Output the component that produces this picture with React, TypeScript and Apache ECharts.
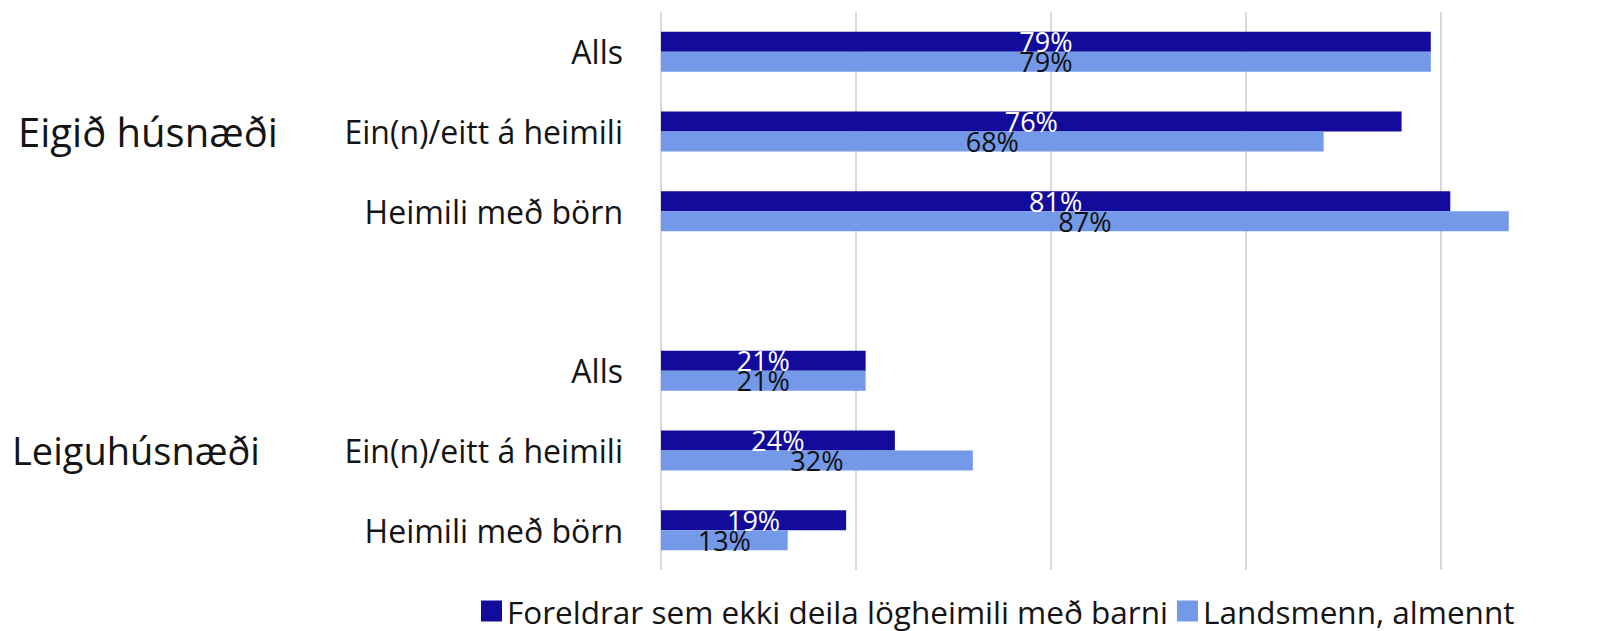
import React, { useEffect, useRef } from "react";
import * as echarts from "echarts";

const categories = [
  "Alls",
  "Ein(n)/eitt á heimili",
  "Heimili með börn",
  "",
  "Alls",
  "Ein(n)/eitt á heimili",
  "Heimili með börn",
];
const seriesNames = ["Foreldrar sem ekki deila lögheimili með barni", "Landsmenn, almennt"];
const parentsValues: (number | string)[] = [79, 76, 81, "-", 21, 24, 19];
const generalValues: (number | string)[] = [79, 68, 87, "-", 21, 32, 13];
const groupLabels = ["Eigið húsnæði", "Leiguhúsnæði"];

const FONT = "Open Sans";
const DARK = "#130B9B";
const LIGHT = "#7499E8";
const INK = "#141414";

export default function App() {
  const ref = useRef<HTMLDivElement>(null);
  useEffect(() => {
    if (!ref.current) return;
    const chart = echarts.init(ref.current, undefined, { renderer: "svg" });
    chart.setOption({
      animation: false,
      textStyle: { fontFamily: FONT },
      grid: { left: 661, right: 76, top: 12, bottom: 61, containLabel: false },
      xAxis: {
        type: "value",
        min: 0,
        max: 90,
        interval: 20,
        axisLabel: { show: false },
        axisLine: { show: false },
        axisTick: { show: false },
        splitLine: { show: true, showMaxLine: false, lineStyle: { color: "#d9d9d9", width: 2 } },
      },
      yAxis: {
        type: "category",
        inverse: true,
        data: categories,
        axisLine: { show: false },
        axisTick: { show: false },
        axisLabel: { fontSize: 32, color: INK, margin: 38, fontFamily: FONT },
      },
      legend: {
        left: 476,
        top: 590,
        itemWidth: 21,
        itemHeight: 21,
        itemGap: 9,
        icon: "rect",
        textStyle: { fontSize: 31.5, color: INK, fontFamily: FONT, padding: [0, 0, 0, 0] },
        data: seriesNames,
      },
      graphic: [
        {
          type: "text",
          x: 18,
          y: 131,
          style: { text: groupLabels[0], fontSize: 40, fill: INK, fontFamily: FONT, verticalAlign: "middle" },
        },
        {
          type: "text",
          x: 12,
          y: 450,
          style: { text: groupLabels[1], fontSize: 38, fill: INK, fontFamily: FONT, verticalAlign: "middle" },
        },
      ],
      series: [
        {
          name: seriesNames[0],
          type: "bar",
          data: parentsValues,
          barWidth: 20,
          barGap: "0%",
          itemStyle: { color: DARK },
          label: {
            show: true,
            position: "inside",
            formatter: "{c}%",
            fontSize: 27,
            color: "#ffffff",
            fontFamily: FONT,
          },
        },
        {
          name: seriesNames[1],
          type: "bar",
          data: generalValues,
          barWidth: 20,
          barGap: "0%",
          itemStyle: { color: LIGHT },
          label: {
            show: true,
            position: "inside",
            formatter: "{c}%",
            fontSize: 27,
            color: "#111111",
            fontFamily: FONT,
          },
        },
      ],
    });
    return () => chart.dispose();
  }, []);
  return <div ref={ref} style={{ width: 1614, height: 631, position: "absolute", left: 0, top: 0 }} />;
}
